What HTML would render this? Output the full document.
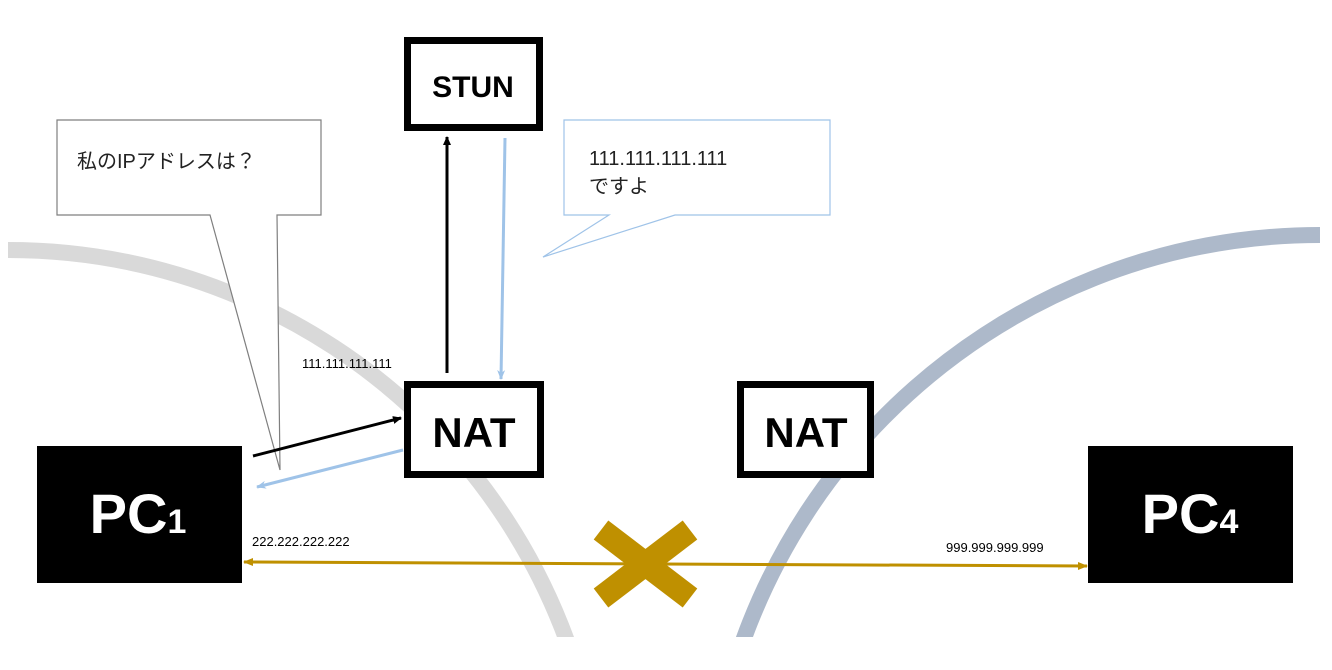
<!DOCTYPE html>
<html><head><meta charset="utf-8"><style>
html,body{margin:0;padding:0;background:#fff;width:1332px;height:670px;overflow:hidden;}
svg{display:block;}
text{font-family:"Liberation Sans","Noto Sans CJK JP",sans-serif;}
</style></head><body>
<svg width="1332" height="670" viewBox="0 0 1332 670" xmlns="http://www.w3.org/2000/svg">
<defs>
<clipPath id="c"><rect x="8" y="0" width="1312" height="637"/></clipPath>
<marker id="ab" markerWidth="10" markerHeight="10" refX="8" refY="5" orient="auto" markerUnits="userSpaceOnUse"><path d="M0,1 L9,5 L0,9 Z" fill="#000"/></marker>
<marker id="al" markerWidth="12" markerHeight="10" refX="9" refY="5" orient="auto" markerUnits="userSpaceOnUse"><path d="M0,1 L10,5 L0,9 L3,5 Z" fill="#9fc3e8"/></marker>
<marker id="ag" markerWidth="12" markerHeight="10" refX="9" refY="5" orient="auto" markerUnits="userSpaceOnUse"><path d="M0,1 L10,5 L0,9 Z" fill="#bf9000"/></marker>
<marker id="ag2" markerWidth="12" markerHeight="10" refX="1" refY="5" orient="auto" markerUnits="userSpaceOnUse"><path d="M10,1 L0,5 L10,9 Z" fill="#bf9000"/></marker>
</defs>
<g clip-path="url(#c)" fill="none" stroke-width="16">
<circle cx="8" cy="845" r="595" stroke="#d9d9d9"/>
<circle cx="1320" cy="848" r="613" stroke="#adb9ca"/>
</g>
<path d="M57,120 H321 V215 H277 L280,470 L210,215 H57 Z" fill="#fff" stroke="#7f7f7f" stroke-width="1.2"/>
<text x="77" y="168" font-size="20" fill="#222">私のIPアドレスは？</text>
<path d="M564,120 H830 V215 H675 L543,257 L609,215 H564 Z" fill="#fff" stroke="#9fc3e8" stroke-width="1.2"/>
<text x="589" y="165" font-size="20" fill="#222">111.111.111.111</text>
<text x="589" y="193" font-size="20" fill="#222">ですよ</text>
<rect x="407.5" y="40.5" width="132" height="87" fill="#fff" stroke="#000" stroke-width="7"/>
<text x="473" y="97" font-size="30" font-weight="bold" text-anchor="middle" fill="#000">STUN</text>
<rect x="407.5" y="384.5" width="133" height="90" fill="#fff" stroke="#000" stroke-width="7"/>
<text x="474" y="447" font-size="42" font-weight="bold" text-anchor="middle" fill="#000">NAT</text>
<rect x="740.5" y="384.5" width="130" height="90" fill="#fff" stroke="#000" stroke-width="7"/>
<text x="806" y="447" font-size="42" font-weight="bold" text-anchor="middle" fill="#000">NAT</text>
<rect x="37" y="446" width="205" height="137" fill="#000"/>
<text x="138" y="533" font-size="56" font-weight="bold" text-anchor="middle" fill="#fff">PC<tspan font-size="34">1</tspan></text>
<rect x="1088" y="446" width="205" height="137" fill="#000"/>
<text x="1190" y="533" font-size="56" font-weight="bold" text-anchor="middle" fill="#fff">PC<tspan font-size="34">4</tspan></text>
<line x1="447" y1="373" x2="447" y2="137" stroke="#000" stroke-width="3" marker-end="url(#ab)"/>
<line x1="505" y1="138" x2="501" y2="379" stroke="#9fc3e8" stroke-width="3" marker-end="url(#al)"/>
<line x1="253" y1="456" x2="401" y2="418" stroke="#000" stroke-width="3" marker-end="url(#ab)"/>
<line x1="403" y1="450" x2="257" y2="487" stroke="#9fc3e8" stroke-width="3" marker-end="url(#al)"/>
<line x1="244" y1="562" x2="1087" y2="566" stroke="#bf9000" stroke-width="3" marker-start="url(#ag2)" marker-end="url(#ag)"/>
<g stroke="#bf9000" stroke-width="24" stroke-linecap="butt">
<line x1="601" y1="530" x2="690" y2="598"/>
<line x1="690" y1="530" x2="601" y2="598"/>
</g>
<text x="302" y="368" font-size="13" fill="#000">111.111.111.111</text>
<text x="252" y="546" font-size="13" fill="#000">222.222.222.222</text>
<text x="946" y="552" font-size="13" fill="#000">999.999.999.999</text>
</svg>
</body></html>
